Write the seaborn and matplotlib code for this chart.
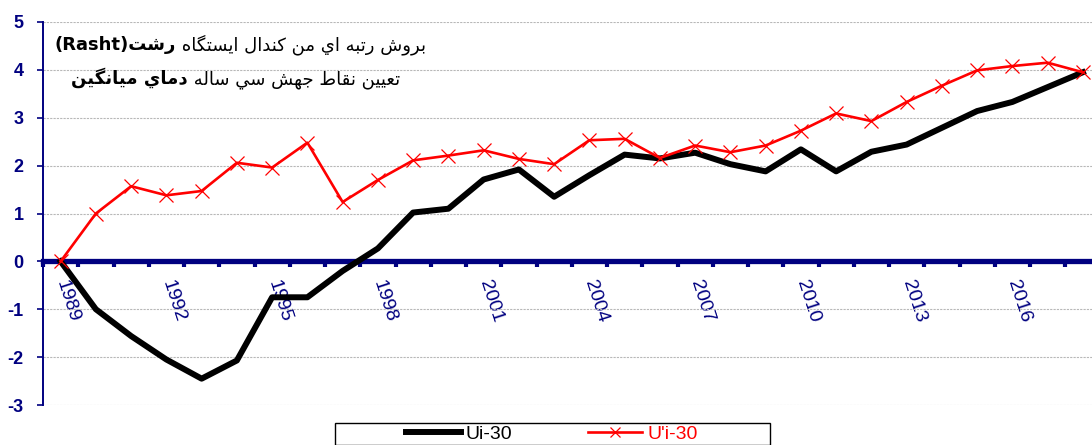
import matplotlib
matplotlib.use("Agg")
import matplotlib.pyplot as plt
import matplotlib.transforms as mtransforms
from matplotlib.patches import Rectangle
import seaborn as sns

# data
years = list(range(1989, 2019))
ui_30 = [0.00, -1.00, -1.56, -2.05, -2.45, -2.07, -0.75, -0.75, -0.20, 0.27,
         1.02, 1.10, 1.71, 1.92, 1.35, 1.80, 2.23, 2.15, 2.27, 2.03,
         1.88, 2.34, 1.88, 2.29, 2.44, 2.79, 3.14, 3.33, 3.64, 3.95]
u_prime_i_30 = [0.00, 1.00, 1.57, 1.38, 1.47, 2.06, 1.96, 2.48, 1.24, 1.70,
                2.11, 2.21, 2.32, 2.14, 2.03, 2.53, 2.56, 2.16, 2.42, 2.28,
                2.42, 2.73, 3.09, 2.93, 3.33, 3.67, 3.99, 4.08, 4.15, 3.95]
year_labels = [1989, 1992, 1995, 1998, 2001, 2004, 2007, 2010, 2013, 2016]
y_ticks = [-3, -2, -1, 0, 1, 2, 3, 4, 5]

title1_plain = "بروش رتبه اي من كندال ايستگاه "
title1_bold_ar = "رشت"
title1_bold_latin = "(Rasht)"
title2_plain = "تعيين نقاط جهش سي ساله "
title2_bold = "دماي ميانگين"

NAVY = "#000080"

# contextual forms: isolated, final, initial, medial
FORMS = {
    "ا": ("\uFE8D", "\uFE8E"),
    "د": ("\uFEA9", "\uFEAA"),
    "ر": ("\uFEAD", "\uFEAE"),
    "و": ("\uFEED", "\uFEEE"),
    "ب": ("\uFE8F", "\uFE90", "\uFE91", "\uFE92"),
    "ت": ("\uFE95", "\uFE96", "\uFE97", "\uFE98"),
    "ج": ("\uFE9D", "\uFE9E", "\uFE9F", "\uFEA0"),
    "س": ("\uFEB1", "\uFEB2", "\uFEB3", "\uFEB4"),
    "ش": ("\uFEB5", "\uFEB6", "\uFEB7", "\uFEB8"),
    "ط": ("\uFEC1", "\uFEC2", "\uFEC3", "\uFEC4"),
    "ع": ("\uFEC9", "\uFECA", "\uFECB", "\uFECC"),
    "ق": ("\uFED5", "\uFED6", "\uFED7", "\uFED8"),
    "ك": ("\uFED9", "\uFEDA", "\uFEDB", "\uFEDC"),
    "ل": ("\uFEDD", "\uFEDE", "\uFEDF", "\uFEE0"),
    "م": ("\uFEE1", "\uFEE2", "\uFEE3", "\uFEE4"),
    "ن": ("\uFEE5", "\uFEE6", "\uFEE7", "\uFEE8"),
    "ه": ("\uFEE9", "\uFEEA", "\uFEEB", "\uFEEC"),
    "ي": ("\uFEF1", "\uFEF2", "\uFEF3", "\uFEF4"),
    "گ": ("\uFB92", "\uFB93", "\uFB94", "\uFB95"),
}


def shape(s):
    # join Arabic letters and put them in visual (left-to-right) order
    out = []
    for i, ch in enumerate(s):
        if ch not in FORMS:
            out.append(ch)
            continue
        f = FORMS[ch]
        prev = s[i - 1] if i > 0 else ""
        nxt = s[i + 1] if i + 1 < len(s) else ""
        jp = prev in FORMS and len(FORMS[prev]) == 4
        jn = len(f) == 4 and nxt in FORMS
        if jp and jn:
            out.append(f[3])
        elif jp:
            out.append(f[1])
        elif jn:
            out.append(f[2])
        else:
            out.append(f[0])
    return "".join(reversed(out))


fig = plt.figure(figsize=(10.92, 4.45), dpi=100)
ax = fig.add_axes([43 / 1092, 40 / 445, 1057.5 / 1092, 383 / 445])

sns.lineplot(x=years, y=ui_30, ax=ax, color="black", linewidth=4.3,
             label="Ui-30", zorder=4)
sns.lineplot(x=years, y=u_prime_i_30, ax=ax, color="red", linewidth=1.9,
             marker="x", markersize=9.5, markeredgewidth=0.9,
             markeredgecolor="red", label="U'i-30", zorder=5)

ax.set_xlim(1988.5, 2018.5)
ax.set_ylim(-3, 5)

# axes look
ax.spines["top"].set_visible(False)
ax.spines["right"].set_visible(False)
ax.spines["left"].set_color(NAVY)
ax.spines["left"].set_linewidth(1.4)
ax.spines["bottom"].set_position(("data", 0))
ax.spines["bottom"].set_color(NAVY)
ax.spines["bottom"].set_linewidth(3.8)
ax.spines["bottom"].set_zorder(3)

ax.set_yticks(y_ticks)
ax.set_yticklabels([str(v) for v in y_ticks], fontsize=13, fontweight="bold",
                   color=NAVY, family="Liberation Sans")
ax.tick_params(axis="y", direction="out", length=4.3, width=1.2, color=NAVY,
               pad=9.5)
ax.yaxis.grid(True, color="#b8b8b8", linestyle=(0, (2, 1)), linewidth=0.8)
ax.set_axisbelow(True)

ax.set_xticks(year_labels)
ax.set_xticklabels([str(y) for y in year_labels], fontsize=14, color=NAVY,
                   family="Liberation Sans", rotation=-72,
                   rotation_mode="anchor", ha="center", va="center")
ax.set_xticks([y + 0.5 for y in [years[0] - 1] + years], minor=True)
ax.tick_params(axis="x", which="major", length=0, pad=29)
ax.tick_params(axis="x", which="minor", direction="out", length=4.3, width=3,
               color=NAVY)
shift = mtransforms.ScaledTranslation(7 / 100, 0, fig.dpi_scale_trans)
for lab in ax.get_xticklabels():
    lab.set_transform(lab.get_transform() + shift)
ax.set_xlabel("")
ax.set_ylabel("")

# two-line title, plain part right aligned, bold part glued on its left
t1 = fig.text(426 / 1092, 1 - 50 / 445, shape(title1_plain), fontsize=13,
              family="DejaVu Sans", ha="right", va="baseline")
ax.annotate(title1_bold_latin + shape(title1_bold_ar), xy=(0, 1 - 50 / 445),
            xycoords=(t1, "figure fraction"), fontsize=13,
            family="DejaVu Sans", fontweight="bold", ha="right",
            va="baseline", annotation_clip=False)
t2 = fig.text(400 / 1092, 1 - 84 / 445, shape(title2_plain), fontsize=13,
              family="DejaVu Sans", ha="right", va="baseline")
ax.annotate(shape(title2_bold), xy=(0, 1 - 84 / 445),
            xycoords=(t2, "figure fraction"), fontsize=13,
            family="DejaVu Sans", fontweight="bold", ha="right",
            va="baseline", annotation_clip=False)

# legend at the bottom, cut by the figure edge like the original
leg = ax.legend(loc="center", bbox_to_anchor=(552 / 1092, 1 - 434 / 445),
                bbox_transform=fig.transFigure, ncol=2, frameon=False,
                prop={"family": "Liberation Sans", "size": 14},
                handlelength=2.8, handletextpad=0.25, columnspacing=3.9,
                markerscale=0.7)
for txt, col in zip(leg.get_texts(), ["black", "red"]):
    txt.set_color(col)
fig.patches.append(Rectangle((335 / 1092, 0), 435 / 1092, 22 / 445,
                             transform=fig.transFigure, fill=False,
                             edgecolor="black", linewidth=1.0))

fig.savefig("out.png", dpi=100)
